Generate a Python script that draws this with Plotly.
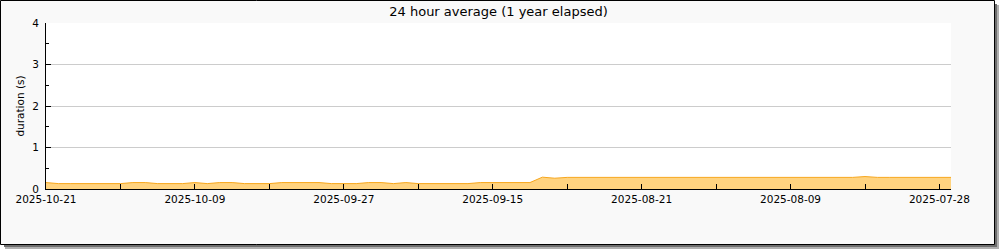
import plotly.graph_objects as go

# sample index (one per day of the plotted series, newest first)
values = [
    0.155, 0.13, 0.13, 0.13, 0.13, 0.13, 0.13, 0.155, 0.155, 0.13,
    0.13, 0.13, 0.155, 0.13, 0.155, 0.155, 0.13, 0.13, 0.13, 0.155,
    0.155, 0.155, 0.155, 0.13, 0.13, 0.13, 0.155, 0.155, 0.13, 0.155,
    0.13, 0.13, 0.13, 0.13, 0.13, 0.155, 0.155, 0.155, 0.155, 0.155,
    0.285, 0.26, 0.28, 0.28, 0.28, 0.28, 0.28, 0.28, 0.28, 0.28,
    0.28, 0.28, 0.28, 0.28, 0.28, 0.28, 0.28, 0.28, 0.28, 0.28,
    0.28, 0.28, 0.28, 0.28, 0.28, 0.28, 0.30, 0.28, 0.28, 0.28,
    0.28, 0.28, 0.28, 0.28,
]
samples = list(range(len(values)))

tick_positions = [0, 6, 12, 18, 24, 30, 36, 42, 48, 54, 60, 66, 72]
tick_labels = ["2025-10-21", "", "2025-10-09", "", "2025-09-27", "", "2025-09-15",
               "", "2025-08-21", "", "2025-08-09", "", "2025-07-28"]
y_ticks = [0, 1, 2, 3, 4]

W, H = 1000, 250
ML, MR, MT, MB = 46, 49, 23, 61
PW, PH = W - ML - MR, H - MT - MB


def px(x):
    return (x - ML) / PW


def py(y):
    return (H - MB - y) / PH


fig = go.Figure()
fig.add_trace(go.Scatter(
    x=samples, y=values, mode="lines", fill="tozeroy",
    line=dict(color="#f7a71e", width=1), fillcolor="#ffd37f",
    hoverinfo="skip", showlegend=False,
))

shapes = [
    dict(type="rect", xref="paper", yref="paper", x0=px(5), x1=px(999), y0=py(5), y1=py(249),
         fillcolor="#b0b0b0", line=dict(width=0), layer="below"),
    dict(type="rect", xref="paper", yref="paper", x0=px(4), x1=px(997), y0=py(4), y1=py(247),
         fillcolor="#6e6e6e", line=dict(width=0), layer="below"),
    dict(type="rect", xref="paper", yref="paper", x0=px(0.5), x1=px(994.5), y0=py(0.5), y1=py(244.5),
         fillcolor="#f9f9f9", line=dict(color="black", width=1), layer="below"),
    dict(type="rect", xref="paper", yref="paper", x0=0, x1=1, y0=0, y1=1,
         fillcolor="white", line=dict(width=0), layer="below"),
]

fig.update_layout(
    width=W, height=H,
    margin=dict(l=ML, r=MR, t=MT, b=MB, pad=0),
    paper_bgcolor="white", plot_bgcolor="white",
    font=dict(family="DejaVu Sans", size=10.5, color="black"),
    title=dict(text="24 hour average (1 year elapsed)", x=0.5, xref="paper",
               y=1 - 11.5 / H, yanchor="middle", font=dict(size=13, color="black")),
    shapes=shapes,
    showlegend=False,
)
fig.update_xaxes(
    range=[0, 72.93], tickmode="array", tickvals=tick_positions, ticktext=tick_labels,
    ticks="inside", ticklen=5, tickcolor="black", showgrid=False, zeroline=False,
    showline=True, linecolor="black", linewidth=1, fixedrange=True,
)
fig.update_yaxes(
    range=[0, 4], tickmode="array", tickvals=y_ticks,
    ticks="inside", ticklen=5, tickcolor="black", ticklabelstandoff=4,
    minor=dict(dtick=0.5, ticks="inside", ticklen=3, tickcolor="black", showgrid=False),
    showgrid=True, gridcolor="#cccccc", gridwidth=1, zeroline=False,
    showline=True, linecolor="black", linewidth=1,
    title=dict(text="duration (s)", standoff=5, font=dict(size=10.5)), fixedrange=True,
)

fig.write_html("out.html")
